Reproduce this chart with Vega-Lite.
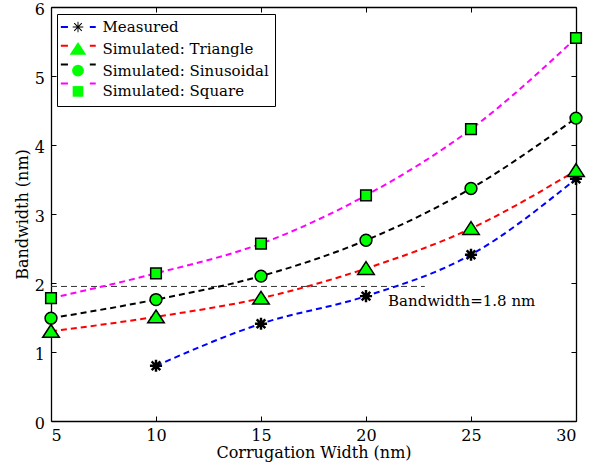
{
  "$schema": "https://vega.github.io/schema/vega-lite/v6.json",
  "width": 525,
  "height": 414,
  "autosize": {"type": "none"},
  "padding": {"left": 51, "top": 7, "right": 24, "bottom": 44},
  "background": "white",
  "config": {
    "font": "DejaVu Serif",
    "view": {"stroke": null},
    "axis": {
      "labelFont": "DejaVu Serif", "labelFontSize": 16, "labelColor": "black",
      "titleFont": "DejaVu Serif", "titleFontSize": 16, "titleFontWeight": "normal", "titleColor": "black",
      "domainColor": "black", "domainWidth": 1.3, "tickColor": "black", "tickWidth": 1, "grid": false
    },
    "legend": {
      "labelFont": "DejaVu Serif", "labelFontSize": 15, "labelColor": "black", "labelLimit": 400,
      "symbolStrokeColor": "black", "symbolBaseStrokeColor": "black"
    }
  },
  "datasets": {
    "bw": [
      {"series": "Measured", "width": 10, "bw": 0.8},
      {"series": "Measured", "width": 15, "bw": 1.41},
      {"series": "Measured", "width": 20, "bw": 1.81},
      {"series": "Measured", "width": 25, "bw": 2.41},
      {"series": "Measured", "width": 30, "bw": 3.51},
      {"series": "Simulated: Triangle", "width": 5, "bw": 1.3},
      {"series": "Simulated: Triangle", "width": 10, "bw": 1.51},
      {"series": "Simulated: Triangle", "width": 15, "bw": 1.78},
      {"series": "Simulated: Triangle", "width": 20, "bw": 2.21},
      {"series": "Simulated: Triangle", "width": 25, "bw": 2.79},
      {"series": "Simulated: Triangle", "width": 30, "bw": 3.63},
      {"series": "Simulated: Sinusoidal", "width": 5, "bw": 1.49},
      {"series": "Simulated: Sinusoidal", "width": 10, "bw": 1.76},
      {"series": "Simulated: Sinusoidal", "width": 15, "bw": 2.1},
      {"series": "Simulated: Sinusoidal", "width": 20, "bw": 2.62},
      {"series": "Simulated: Sinusoidal", "width": 25, "bw": 3.37},
      {"series": "Simulated: Sinusoidal", "width": 30, "bw": 4.39},
      {"series": "Simulated: Square", "width": 5, "bw": 1.78},
      {"series": "Simulated: Square", "width": 10, "bw": 2.14},
      {"series": "Simulated: Square", "width": 15, "bw": 2.57},
      {"series": "Simulated: Square", "width": 20, "bw": 3.27},
      {"series": "Simulated: Square", "width": 25, "bw": 4.23},
      {"series": "Simulated: Square", "width": 30, "bw": 5.55}
    ]
  },
  "layer": [
    {
      "data": {"values": [{"x": 5, "x2": 22.8, "y": 1.95}]},
      "mark": {"type": "rule", "color": "#333333", "strokeWidth": 1, "strokeDash": [6, 4]},
      "encoding": {
        "x": {"field": "x", "type": "quantitative", "scale": {"domain": [5, 30]}, "axis": null},
        "x2": {"field": "x2"},
        "y": {"field": "y", "type": "quantitative", "scale": {"domain": [0, 6]}, "axis": null}
      }
    },
    {
      "data": {"name": "bw"},
      "mark": {"type": "line", "strokeWidth": 2, "strokeDash": [6, 4], "interpolate": "monotone"},
      "encoding": {
        "x": {"field": "width", "type": "quantitative", "scale": {"domain": [5, 30]},
          "axis": {"orient": "bottom", "values": [5, 10, 15, 20, 25, 30], "tickSize": -5, "labelPadding": 11, "title": "Corrugation Width (nm)", "titlePadding": 1,
            "labelFont": "DejaVu Serif", "titleFont": "DejaVu Serif"}},
        "y": {"field": "bw", "type": "quantitative", "scale": {"domain": [0, 6]},
          "axis": {"orient": "left", "values": [0, 1, 2, 3, 4, 5, 6], "tickSize": -5, "labelPadding": 11.5, "labelOffset": 2, "title": "Bandwidth (nm)", "titlePadding": 4,
            "labelFont": "DejaVu Serif", "titleFont": "DejaVu Serif"}},
        "stroke": {
          "field": "series", "type": "nominal",
          "sort": ["Measured", "Simulated: Triangle", "Simulated: Sinusoidal", "Simulated: Square"],
          "scale": {"range": ["#0000ff", "#ff0000", "#000000", "#ff00ff"]},
          "legend": {"orient": "none", "legendX": 6, "legendY": 7, "title": null, "zindex": 2,
            "symbolType": "M-2.9,0L-1.7,0M2,0L3,0", "symbolSize": 140, "symbolStrokeWidth": 2,
            "symbolDash": [1, 0], "labelOpacity": 0, "padding": 5.5, "rowPadding": 2.8,
            "symbolOffset": 8, "labelOffset": 17}
        }
      }
    },
    {
      "data": {"name": "bw"},
      "mark": {"type": "point", "filled": true, "fillOpacity": 1, "stroke": "black", "strokeWidth": 1.5, "size": 140, "opacity": 1},
      "encoding": {
        "x": {"field": "width", "type": "quantitative", "scale": {"domain": [5, 30]},
          "axis": {"orient": "top", "values": [5, 10, 15, 20, 25, 30], "tickSize": -5, "labels": false, "title": null}},
        "y": {"field": "bw", "type": "quantitative", "scale": {"domain": [0, 6]},
          "axis": {"orient": "right", "values": [0, 1, 2, 3, 4, 5, 6], "tickSize": -5, "labels": false, "title": null}},
        "fill": {
          "field": "series", "type": "nominal",
          "scale": {"domain": ["Measured", "Simulated: Triangle", "Simulated: Sinusoidal", "Simulated: Square"],
                    "range": ["#000000", "#00ff00", "#00ff00", "#00ff00"]}
        },
        "shape": {
          "field": "series", "type": "nominal",
          "scale": {"domain": ["Measured", "Simulated: Triangle", "Simulated: Sinusoidal", "Simulated: Square"],
                    "range": ["M-0.9,-0.08L0.9,-0.08L0.9,0.08L-0.9,0.08ZM-0.08,-0.9L0.08,-0.9L0.08,0.9L-0.08,0.9ZM-0.58,-0.7L0.7,0.58L0.58,0.7L-0.7,-0.58ZM-0.7,0.58L0.58,-0.7L0.7,-0.58L-0.58,0.7Z",
                              "M0,-1.15L1.4,1L-1.4,1Z",
                              "circle",
                              "M-0.9,-0.9L0.9,-0.9L0.9,0.9L-0.9,0.9Z"]},
          "legend": {"orient": "none", "legendX": 6, "legendY": 7, "title": null, "zindex": 1,
            "symbolStrokeColor": "black", "symbolStrokeWidth": 1.5, "symbolSize": 140,
            "fillColor": "white", "strokeColor": "black",
            "padding": 5.5, "rowPadding": 2.8, "symbolOffset": 8, "labelOffset": 17,
            "encode": {"symbols": {"stroke": {"value": "black"}, "strokeWidth": {"value": 1.5}}}}
        }
      }
    },
    {
      "data": {"values": [{"x": 21.05, "y": 1.67, "t": "Bandwidth=1.8 nm"}]},
      "mark": {"type": "text", "align": "left", "baseline": "alphabetic", "font": "DejaVu Serif", "fontSize": 15, "color": "black"},
      "encoding": {
        "x": {"field": "x", "type": "quantitative", "scale": {"domain": [5, 30]}, "axis": null},
        "y": {"field": "y", "type": "quantitative", "scale": {"domain": [0, 6]}, "axis": null},
        "text": {"field": "t"}
      }
    }
  ],
  "resolve": {"axis": {"x": "independent", "y": "independent"}}
}
